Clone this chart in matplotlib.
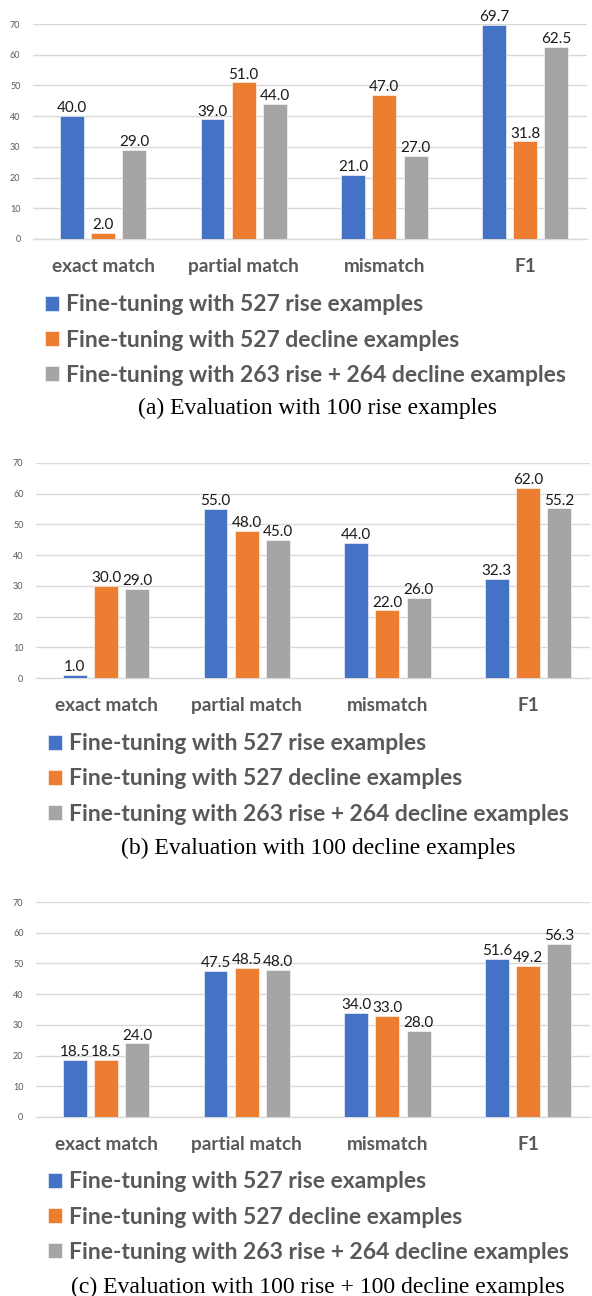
import matplotlib
matplotlib.use("Agg")
import matplotlib.pyplot as plt
import numpy as np

W, H = 592, 1296

categories = ["exact match", "partial match", "mismatch", "F1"]
series_names = [
    "Fine-tuning with 527 rise examples",
    "Fine-tuning with 527 decline examples",
    "Fine-tuning with 263 rise + 264 decline examples",
]
colors = ["#4472C4", "#ED7D31", "#A5A5A5"]

# values per panel: rows = series, cols = categories
rise_eval = [
    [40.0, 39.0, 21.0, 69.7],
    [2.0, 51.0, 47.0, 31.8],
    [29.0, 44.0, 27.0, 62.5],
]
decline_eval = [
    [1.0, 55.0, 44.0, 32.3],
    [30.0, 48.0, 22.0, 62.0],
    [29.0, 45.0, 26.0, 55.2],
]
mixed_eval = [
    [18.5, 47.5, 34.0, 51.6],
    [18.5, 48.5, 33.0, 49.2],
    [24.0, 48.0, 28.0, 56.3],
]
captions = [
    "(a) Evaluation with 100 rise examples",
    "(b) Evaluation with 100 decline examples",
    "(c) Evaluation with 100 rise + 100 decline examples",
]
yticks = [0, 10, 20, 30, 40, 50, 60, 70]

# panel layout in pixels: plot box, first group centre, legend x / middle row y, caption y
panels = [
    dict(data=rise_eval, left=33, right=587, top=24, bottom=239, c0=103,
         lx=45, lmid=340, capy=408),
    dict(data=decline_eval, left=36, right=590, top=463, bottom=678, c0=106,
         lx=48, lmid=779, capy=848),
    dict(data=mixed_eval, left=36, right=590, top=902, bottom=1117, c0=106,
         lx=48, lmid=1217, capy=1287),
]
step = 140.7
bar_w = 0.17
offset = 0.222
cap_x = 318

sans = ["Lato", "DejaVu Sans"]
gray_txt = "#595959"

fig = plt.figure(figsize=(W / 100, H / 100), dpi=100)

for p in panels:
    ax = fig.add_axes([p["left"] / W, 1 - p["bottom"] / H,
                       (p["right"] - p["left"]) / W, (p["bottom"] - p["top"]) / H])
    x = np.arange(len(categories))
    handles = []
    for i, vals in enumerate(p["data"]):
        bars = ax.bar(x + (i - 1) * offset, vals, width=bar_w, color=colors[i],
                      edgecolor="white", linewidth=0.4, zorder=3, label=series_names[i])
        handles.append(bars)
        for xx, v in zip(x + (i - 1) * offset, vals):
            ax.annotate(f"{v:.1f}", (xx, v), xytext=(0, 0.5), textcoords="offset points",
                        ha="center", va="bottom", fontsize=11, family=sans,
                        color="#1a1a1a", clip_on=False, zorder=4)
    ax.set_xlim((p["left"] - p["c0"]) / step, (p["right"] - p["c0"]) / step)
    ax.set_ylim(0, 70)
    ax.set_yticks(yticks)
    ax.set_yticklabels([str(t) for t in yticks], family=sans, fontsize=6.5, color=gray_txt)
    ax.set_xticks(x)
    ax.set_xticklabels(categories, family=sans, fontsize=13.7, fontweight="bold",
                       color=gray_txt, va="center")
    ax.tick_params(axis="both", length=0)
    ax.tick_params(axis="y", pad=9)
    ax.tick_params(axis="x", pad=20)
    ax.yaxis.grid(True, color="#D9D9D9", linewidth=1.0, zorder=0)
    for s in ["top", "right", "left"]:
        ax.spines[s].set_visible(False)
    ax.spines["bottom"].set_color("#D9D9D9")
    ax.spines["bottom"].set_linewidth(1.0)
    ax.set_axisbelow(True)

    leg = ax.legend(handles=handles, loc="center left",
                    bbox_to_anchor=(p["lx"] / W, 1 - p["lmid"] / H),
                    bbox_transform=fig.transFigure, frameon=False,
                    borderpad=0, borderaxespad=0, labelspacing=0.62,
                    handlelength=0.61, handleheight=0.61, handletextpad=0.3,
                    prop=dict(family=sans, size=16.5, weight="bold"))
    for t in leg.get_texts():
        t.set_color(gray_txt)

for p, cap in zip(panels, captions):
    fig.text(cap_x / W, 1 - p["capy"] / H, cap, ha="center", va="center",
             fontsize=17, family="Liberation Serif", color="black")

fig.savefig("out.png", dpi=100)
